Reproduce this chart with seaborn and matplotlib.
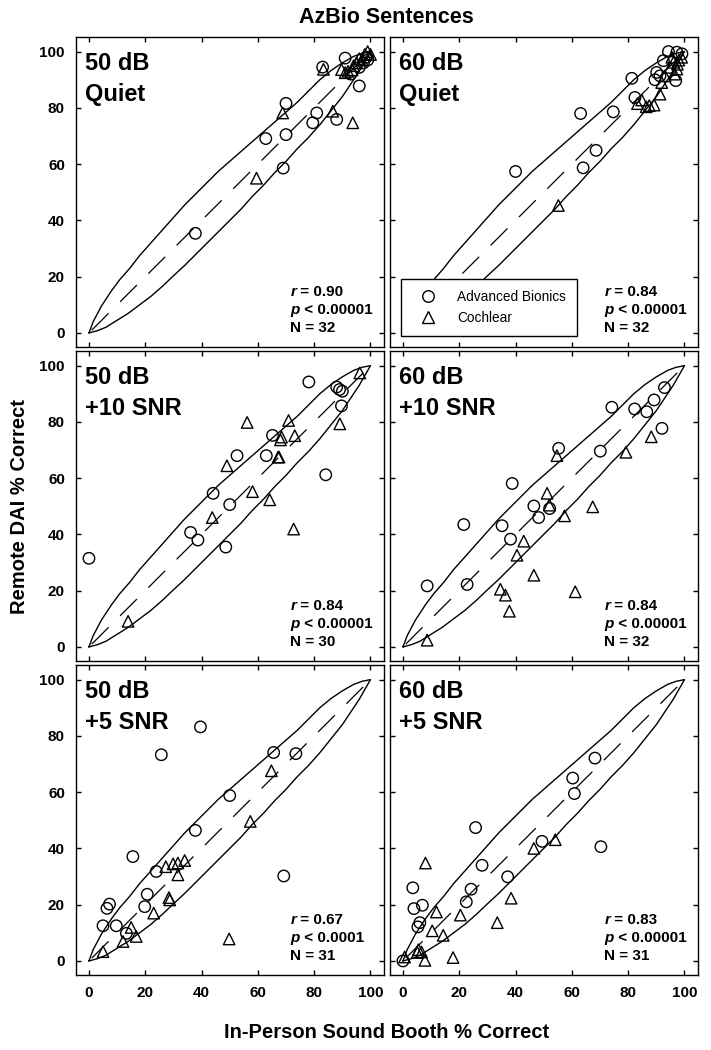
import seaborn as sns
import matplotlib.pyplot as plt
import matplotlib.lines as mlines
import pandas as pd
import numpy as np

# critical-difference band drawn in every panel
band_upper_x = [0, 1.5, 4.4, 8, 11, 14.5, 18, 22, 26, 30, 34, 38, 42, 46, 50, 54, 58, 62, 66, 70, 74, 78, 82, 86, 90, 94, 97, 100]
band_upper_y = [0, 4, 9.5, 15, 19, 23, 27.5, 32, 36.5, 41, 45.5, 49.5, 53.5, 57.5, 61, 64.5, 68, 71.5, 75, 78.5, 82, 86, 90, 93.3, 96, 98.3, 99.4, 100]
band_lower_x = [0, 3, 6, 10, 14, 18, 22, 26, 30, 34, 38, 42, 46, 50, 54, 58, 62, 66, 70, 74, 78, 82, 86, 90, 93, 96, 98, 100]
band_lower_y = [0, 0.8, 2, 4.5, 7, 10, 13, 16.5, 20.3, 24, 28, 32, 36, 40, 44, 48.5, 52.5, 57, 61, 65.5, 69.5, 74, 79, 84, 88.5, 93, 96.5, 100]

panel_labels = ["50 dB\nQuiet", "60 dB\nQuiet", "50 dB\n+10 SNR", "60 dB\n+10 SNR", "50 dB\n+5 SNR", "60 dB\n+5 SNR"]
r_vals = ["0.90", "0.84", "0.84", "0.84", "0.67", "0.83"]
p_vals = ["< 0.00001", "< 0.00001", "< 0.00001", "< 0.00001", "< 0.0001", "< 0.00001"]
n_vals = [32, 32, 30, 32, 31, 31]

# 50 dB Quiet
q50_ab_x = [37.8, 69, 62.8, 70, 70, 79.5, 80.9, 88, 83, 91, 96, 96, 98.5, 99, 97.5, 93]
q50_ab_y = [35.4, 58.6, 69.1, 70.5, 81.6, 74.7, 78.2, 75.9, 94.5, 97.7, 87.8, 94.4, 98, 97, 96, 92]
q50_ci_x = [59.5, 68.8, 83.3, 86.6, 93.7, 89.7, 92, 93.5, 95, 97, 99, 98, 96, 100, 94, 91]
q50_ci_y = [55, 78.2, 93.7, 78.8, 74.7, 93.6, 93, 93.5, 96, 97, 100, 99, 97.5, 99, 95, 92.5]

# 60 dB Quiet
q60_ab_x = [40, 63.1, 64, 68.6, 74.7, 81.3, 82.4, 90.1, 92.5, 94.3, 97.3, 99.1, 96.9, 91.3, 89.5]
q60_ab_y = [57.4, 78, 58.7, 64.9, 78.6, 90.5, 83.7, 92.6, 96.8, 100, 99.8, 99.2, 89.7, 91.4, 90]
q60_ci_x = [55.2, 83.3, 84.8, 86.4, 87.5, 89.2, 91.3, 91.9, 93.1, 94.9, 96.1, 97.3, 98, 95.5, 96.5, 99, 97.5]
q60_ci_y = [45.3, 81.5, 82.8, 80.4, 80.8, 81, 84.9, 89, 91.4, 94.4, 96.2, 93.8, 97, 98, 92, 98, 95.5]

# 50 dB +10 SNR
s10_50_ab_x = [0, 36.1, 38.7, 44.1, 50, 48.6, 52.6, 63, 65.2, 78.1, 84.1, 88, 89, 90, 89.7]
s10_50_ab_y = [31.5, 40.7, 38, 54.6, 50.6, 35.5, 68, 68, 75.2, 94.2, 61.2, 92.4, 91.5, 90.9, 85.7]
s10_50_ci_x = [13.9, 43.8, 49, 56.2, 58.1, 64.2, 68, 68.4, 67.2, 67.5, 70.9, 73.1, 72.7, 89.1, 96.2]
s10_50_ci_y = [9.1, 46, 64.4, 79.8, 55.2, 52.3, 73.6, 74.6, 67.5, 67.5, 80.5, 75.1, 41.9, 79.3, 97.4]

# 60 dB +10 SNR
s10_60_ab_x = [8.6, 21.6, 22.8, 35.2, 38.2, 38.8, 46.5, 48.2, 52.1, 55.3, 70.1, 74.2, 82.3, 86.6, 89.2, 92.9, 92]
s10_60_ab_y = [21.7, 43.5, 22.2, 43.1, 38.3, 58.1, 50.1, 46, 49.2, 70.6, 69.6, 85.2, 84.6, 83.6, 87.8, 92.2, 77.7]
s10_60_ci_x = [8.6, 34.6, 36.4, 37.8, 40.5, 42.9, 46.5, 51.2, 52, 54.7, 57.4, 61.2, 67.4, 79.2, 88.2]
s10_60_ci_y = [2.4, 20.5, 18.4, 12.7, 32.6, 37.6, 25.5, 54.6, 50.4, 68, 46.6, 19.6, 49.8, 69.2, 74.7]

# 50 dB +5 SNR
s5_50_ab_x = [5, 6.4, 7.3, 9.7, 13.3, 15.6, 19.8, 20.7, 23.9, 25.7, 37.8, 39.6, 50, 65.6, 69.2, 73.5]
s5_50_ab_y = [12.5, 18.7, 20.2, 12.5, 9.8, 37.1, 19.3, 23.7, 31.8, 73.3, 46.4, 83.2, 58.8, 74.1, 30.2, 73.7]
s5_50_ci_x = [5, 12.1, 15, 16.8, 23, 27.3, 28.4, 28.7, 29.9, 31.6, 31.6, 34, 49.8, 57.3, 64.8]
s5_50_ci_y = [3.3, 6.9, 11.9, 8.7, 17, 33.5, 22.5, 21.7, 34.5, 34.8, 30.6, 35.7, 7.8, 49.6, 67.6]

# 60 dB +5 SNR
s5_60_ab_x = [0, 3.5, 3.9, 6.9, 5.3, 6, 22.5, 24.2, 25.8, 28.1, 37.2, 49.4, 60.3, 60.9, 68.2, 70.3]
s5_60_ab_y = [0, 26, 18.6, 19.8, 12.1, 13.6, 21, 25.5, 47.4, 34, 29.9, 42.5, 65, 59.5, 72.1, 40.6]
s5_60_ci_x = [0.6, 5.1, 6.6, 7.8, 8, 10.4, 11.9, 14.3, 17.8, 20.4, 33.5, 38.4, 46.5, 54.1, 5.5]
s5_60_ci_y = [1.4, 3, 3.2, 0.2, 34.8, 10.7, 17.4, 9.1, 1.2, 16.3, 13.6, 22.3, 40, 43.1, 4]

panels = [
    (q50_ab_x, q50_ab_y, q50_ci_x, q50_ci_y),
    (q60_ab_x, q60_ab_y, q60_ci_x, q60_ci_y),
    (s10_50_ab_x, s10_50_ab_y, s10_50_ci_x, s10_50_ci_y),
    (s10_60_ab_x, s10_60_ab_y, s10_60_ci_x, s10_60_ci_y),
    (s5_50_ab_x, s5_50_ab_y, s5_50_ci_x, s5_50_ci_y),
    (s5_60_ab_x, s5_60_ab_y, s5_60_ci_x, s5_60_ci_y),
]

sns.set_style("ticks")
plt.rcParams["font.family"] = ["Liberation Sans", "DejaVu Sans"]
plt.rcParams["text.color"] = "black"
plt.rcParams["axes.labelcolor"] = "black"
plt.rcParams["xtick.color"] = "black"
plt.rcParams["ytick.color"] = "black"

fig = plt.figure(figsize=(7.11, 10.5), dpi=100)
lefts = [76 / 711, 390 / 711]
bottoms = [1 - 347 / 1050, 1 - 661 / 1050, 1 - 975 / 1050]
w = 308 / 711
h = 310 / 1050

band_x = band_upper_x + band_lower_x[::-1]
band_y = band_upper_y + band_lower_y[::-1]

for i, (ab_x, ab_y, ci_x, ci_y) in enumerate(panels):
    row, col = divmod(i, 2)
    ax = fig.add_axes([lefts[col], bottoms[row], w, h])

    ax.plot(band_x, band_y, color="black", lw=1.0, zorder=2)
    ax.plot([1, 99], [1, 99], color="black", lw=0.9, dashes=(19, 13), zorder=2)

    df = pd.DataFrame({
        "x": ab_x + ci_x,
        "y": ab_y + ci_y,
        "device": ["Advanced Bionics"] * len(ab_x) + ["Cochlear"] * len(ci_x),
    })
    sns.scatterplot(data=df, x="x", y="y", style="device",
                    markers={"Advanced Bionics": "o", "Cochlear": "^"},
                    s=68, edgecolor="black", linewidth=1, legend=False, ax=ax, zorder=3)
    for coll in ax.collections:
        coll.set_facecolor("none")
        coll.set_edgecolor("black")

    ax.set_xlim(-4.6, 104.8)
    ax.set_ylim(-5, 105.2)
    ax.set_xticks(range(0, 101, 20))
    ax.set_yticks(range(0, 101, 20))
    ax.set_xlabel("")
    ax.set_ylabel("")
    ax.tick_params(direction="in", top=True, right=True, length=3.5, width=1,
                   labelsize=11, pad=8, colors="black")
    if col == 1:
        ax.tick_params(labelleft=False)
    if row < 2:
        ax.tick_params(labelbottom=False)
    for lab in ax.get_xticklabels() + ax.get_yticklabels():
        lab.set_fontweight("bold")
    for s in ax.spines.values():
        s.set_linewidth(1)
        s.set_color("black")

    ax.text(-1.5, 99.7, panel_labels[i], ha="left", va="top", fontsize=17,
            fontweight="bold", linespacing=1.4)

    fs = 11
    t = ax.text(71.5, 14.6, "r", style="italic", fontweight="bold", fontsize=fs, va="center", ha="left")
    ax.annotate(" = " + r_vals[i], xy=(1, 0.5), xycoords=t, va="center", ha="left",
                fontweight="bold", fontsize=fs)
    t = ax.text(71.5, 8.2, "p", style="italic", fontweight="bold", fontsize=fs, va="center", ha="left")
    ax.annotate(" " + p_vals[i], xy=(1, 0.5), xycoords=t, va="center", ha="left",
                fontweight="bold", fontsize=fs)
    ax.text(71.5, 1.8, "N = %d" % n_vals[i], fontweight="bold", fontsize=fs, va="center", ha="left")

    if i == 1:
        h1 = mlines.Line2D([], [], marker="o", ls="none", mfc="none", mec="black", ms=8.3, mew=1)
        h2 = mlines.Line2D([], [], marker="^", ls="none", mfc="none", mec="black", ms=8.3, mew=1)
        leg = ax.legend([h1, h2], ["Advanced Bionics", "Cochlear"], loc="lower left",
                        bbox_to_anchor=(0.036, 0.036), borderaxespad=0, fancybox=False,
                        edgecolor="black", framealpha=1, fontsize=9.8, borderpad=0.8,
                        labelspacing=0.5, handletextpad=0.9, handlelength=2.4)
        leg.get_frame().set_linewidth(1)

fig.text(0.544, 0.9838, "AzBio Sentences", ha="center", va="center", fontsize=15.5, fontweight="bold")
fig.text(0.544, 0.017, "In-Person Sound Booth % Correct", ha="center", va="center",
         fontsize=14.5, fontweight="bold")
fig.text(0.028, 0.518, "Remote DAI % Correct", ha="center", va="center", rotation=90,
         fontsize=14.5, fontweight="bold")

fig.savefig("out.png", dpi=100)
